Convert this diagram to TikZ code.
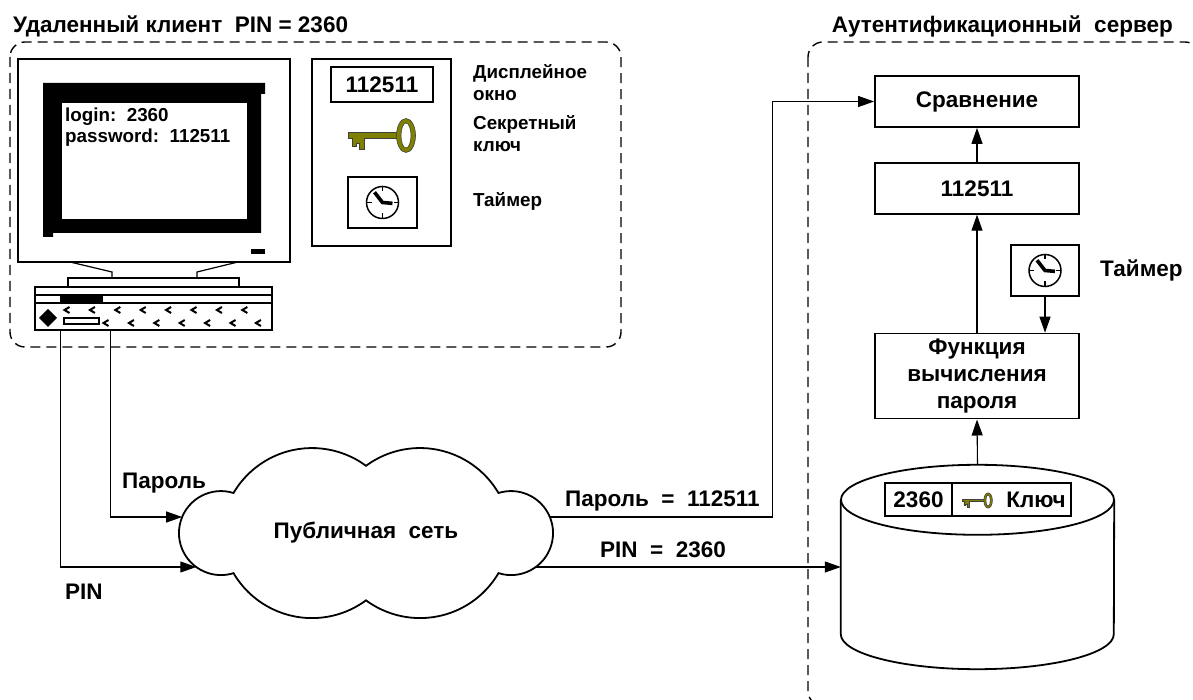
\documentclass[tikz,border=0pt]{standalone}
\usepackage{fontspec}
\setmainfont{Liberation Sans}
\usetikzlibrary{arrows.meta,positioning}
\definecolor{keyolive}{RGB}{128,128,0}

\begin{document}
\begin{tikzpicture}[
  x=1pt, y=1pt, inner sep=0pt,
  font=\fontsize{22.5}{27}\selectfont\bfseries,
  small/.style={font=\fontsize{18.8}{22}\selectfont\bfseries},
  outline/.style={line width=1.8pt},
  box/.style={draw, outline, align=center, minimum width=204},
  cell/.style={draw, line width=1.2pt, outer sep=0pt, minimum height=33},
  zone/.style={line width=1.4pt, dash pattern=on 10pt off 6pt, rounded corners=15pt},
  arrow/.style={line width=1.1pt, -{Triangle[length=16pt,width=11pt]}},
  clockface/.pic={
    \draw[line width=1.5pt] (0,0) circle[radius=16];
    \foreach \a in {0,90,180,270}
      \draw[line width=1.3pt] (\a:16) -- (\a:11);
    \draw[line width=3.6pt] (128:13) -- (0,0) -- (-5:10);
  },
  keyicon/.pic={
    \path[fill=keyolive, draw=black!75, line width=0.6pt]
      (0,2.8) -- (49,2.8) -- (49,-2.8) -- (16,-2.8) -- (16,-14) -- (11,-14)
      -- (11,-8) -- (8,-8) -- (8,-11) -- (4,-11) -- (4,-2.8) -- (0,-2.8) -- cycle;
    \path[fill=keyolive, draw=black!75, line width=0.6pt, even odd rule]
      (58,0) ellipse[x radius=9.5, y radius=17]
      (58,0) ellipse[x radius=5, y radius=12.5];
  }
]
\useasboundingbox (0,0) rectangle (1193,699);

% headings
\node[anchor=base west] (clienthead) at (13,666) {Удаленный клиент~~PIN = 2360};
\node[anchor=base east] (serverhead) at (1173,666) {Аутентификационный~~сервер};

% dashed zones
\draw[zone] (10,657) rectangle (621,352);
\draw[zone] (808,657) rectangle (1200,-7);

% monitor
\draw[outline] (18,640) rectangle (290,437);
\fill (43,616) -- (265,616) -- (265,605) -- (261,605) -- (261,466)
  -- (53,466) -- (53,462) -- (43,462) -- cycle;
\fill[white] (62,596) rectangle (247,480);
\node[small, anchor=base west] (login) at (65,577) {login:~~2360};
\node[small, anchor=base west] (passwd) at (65,556) {password:~~112511};
\fill (251,450) rectangle (265,445);
\draw[line width=1.2pt] (70,437) -- (112,427) -- (112,421)
  (238,437) -- (197,427) -- (197,421);
\draw[line width=1.2pt] (68,421) rectangle (239,412);

% system unit
\node[draw, outline, minimum width=237, minimum height=43] (pc) at (153.5,390.5) {};
\draw[line width=1.2pt] (35,404) -- (272,404) (35,396) -- (272,396);
\fill (60,404) rectangle (103,396);
\fill (39,381) -- (48,390) -- (57,381) -- (48,372) -- cycle;
\draw[line width=1.2pt] (64,381) rectangle (99,375);
\foreach \i in {0,...,7}
  \draw[line width=2pt] ({69.5+25.4*\i},392) -- ++(-5,-3) -- ++(5,-3);
\foreach \i in {0,...,6}
  \draw[line width=2pt] ({108.5+25.4*\i},379) -- ++(-5,-3) -- ++(5,-3);

% token
\node[draw, outline, minimum width=139, minimum height=187] (token) at (381.5,546.5) {};
\node[draw, outline, minimum width=102, minimum height=35] (display) at (382,614.5) {112511};
\pic at (348,563.5) {keyicon};
\node[draw, outline, minimum width=69, minimum height=51] (tokenclock) at (382.5,496.5) {};
\pic at (tokenclock) {clockface};
\node[small, anchor=west, align=left] (displaylabel) at (473,616.5) {Дисплейное\\окно};
\node[small, anchor=west, align=left] (keylabel) at (473,565.5) {Секретный\\ключ};
\node[small, anchor=base west] (tokentimer) at (473,492) {Таймер};

% public network
\draw[outline] (366,233.2)
  arc[start angle=53.6, end angle=149.6, radius=91]
  arc[start angle=72.6, end angle=287.4, radius=42]
  arc[start angle=210.4, end angle=306.4, radius=91]
  arc[start angle=233.6, end angle=329.6, radius=91]
  arc[start angle=-107.4, end angle=107.4, radius=42]
  arc[start angle=30.4, end angle=126.4, radius=91] -- cycle;
\node (net) at (366,166) {Публичная~~сеть};
\coordinate (net-pwd-in) at (182.2,182);
\coordinate (net-pin-in) at (196.3,132);
\coordinate (net-pwd-out) at (549.8,182);
\coordinate (net-pin-out) at (535.7,132);

% server
\node[box, minimum height=51] (cmp) at (977,597.5) {Сравнение};
\node[box, minimum height=51, below=34pt of cmp] (val) {112511};
\node[box, minimum height=85, below=118pt of val] (func) {Функция\\вычисления\\пароля};
\node[draw, outline, minimum width=68, minimum height=51] (timer) at (1045,428.5) {};
\pic at (timer) {clockface};
\node[anchor=west] (timerlabel) at (1100,429) {Таймер};

% database
\node[minimum width=273, minimum height=204] (db) at (977.5,132) {};
\draw[outline] ([yshift=-35pt]db.north west) -- ([yshift=35pt]db.south west)
  arc[start angle=180, end angle=360, x radius=136.5, y radius=35]
  -- ([yshift=-35pt]db.north east);
\draw[outline] ([yshift=-35pt]db.north) ellipse[x radius=136.5, y radius=35];
\node[cell, minimum width=67] (pincell) at (918.5,199.5) {2360};
\node[cell, minimum width=119, right=0pt of pincell] (keycell) {};
\pic[scale=0.45] at (962,198.5) {keyicon};
\node[anchor=east] (keyword) at (1066,199.5) {Ключ};

% connectors
\draw[arrow] ([xshift=76pt]pc.south west) |- (net-pwd-in);
\draw[arrow] ([xshift=26pt]pc.south west) |- (net-pin-in);
\draw[arrow] (net-pwd-out) -- ++(223,0) |- (cmp.west);
\draw[arrow] (net-pin-out) -- (db.west);
\draw[arrow] (db.north) -- (func.south);
\draw[arrow] (func.north) -- (val.south);
\draw[arrow] (val.north) -- (cmp.south);
\draw[arrow] (timer.south) -- (timer.south |- func.north);

% connector labels
\node[anchor=base west] (pwdlabel) at (122,211) {Пароль};
\node[anchor=base west] (pinlabel) at (65,100) {PIN};
\node[anchor=base west] (pwdvalue) at (565,193) {Пароль~~=~~112511};
\node[anchor=base west] (pinvalue) at (600,142) {PIN~~=~~2360};
\end{tikzpicture}
\end{document}
